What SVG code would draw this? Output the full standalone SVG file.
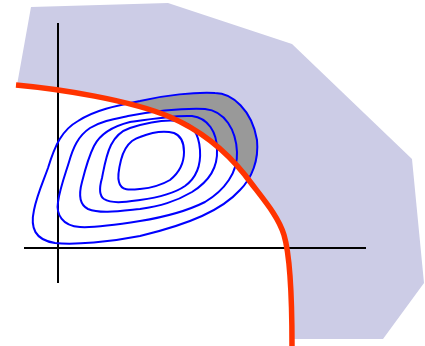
<svg xmlns="http://www.w3.org/2000/svg" width="425" height="346" viewBox="0 0 425 346">
  <style>
    .contour { fill: none; stroke: #0000ff; stroke-width: 2; }
    .axis { stroke: #000000; stroke-width: 2; fill: none; }
    .boundary { fill: none; stroke: #ff3300; stroke-width: 5.5; }
  </style>
  <defs>
    <path id="region" d="M31,7 L168,3 L292,44 L412,159 L424,283 L383,339 L292,339 C292,290 290,255 284,235 C278,215 262,198 245,175 C225,150 200,130 170,117 C130,100 60,89 17,85 Z"/>
    <path id="outer" d="M140,101 C165,95 195,92 215,93 C232,93 252,110 257,140 C259,160 252,178 240,190 C222,210 190,224 140,236 C110,242 75,245 55,243 C35,240 30,228 34,210 C37,195 43,182 48,168 C55,145 62,130 78,121 C95,110 115,106 140,101 Z"/>
    <clipPath id="regionClip"><use href="#region"/></clipPath>
  </defs>
  <g id="feasible-region">
    <use href="#region" fill="#cccce6"/>
  </g>
  <g id="overlap">
    <use href="#outer" fill="#999999" clip-path="url(#regionClip)"/>
  </g>
  <g id="axes">
    <line class="axis" x1="58" y1="23" x2="58" y2="283"/>
    <line class="axis" x1="24" y1="248" x2="366" y2="248"/>
  </g>
  <g id="contours">
    <use href="#outer" class="contour"/>
    <path class="contour" d="M128,116 C150,112 180,108 205,109 C225,111 236,130 237,152 C238,172 225,190 205,202 C185,212 165,217 140,221 C115,225 95,228 80,227 C62,226 56,214 58,202 C60,188 65,175 69,162 C73,148 78,136 90,128 C102,121 114,119 128,116 Z"/>
    <path class="contour" d="M130,122 C150,119 175,115 192,116 C208,118 217,132 217,150 C218,168 208,182 192,192 C175,202 160,206 140,209 C120,211 100,214 88,209 C78,204 79,193 82,182 C85,170 88,158 94,146 C99,136 110,127 130,122 Z"/>
    <path class="contour" d="M130,128 C145,123 165,119 180,121 C193,124 199,135 200,150 C201,165 196,178 185,186 C172,195 155,198 140,200 C125,202 112,204 104,199 C98,195 100,185 102,178 C104,168 106,155 111,145 C115,137 121,131 130,128 Z"/>
    <path class="contour" d="M140,137 C150,133 163,130 174,133 C182,136 184,144 184,152 C184,163 180,172 170,180 C160,186 150,188 140,189 C130,190 121,191 119,182 C117,176 119,168 121,160 C123,152 127,145 132,141 C135,139 137,138 140,137 Z"/>
  </g>
  <g id="boundary-curve">
    <path class="boundary" d="M16,85 C60,89 130,100 170,117 C200,130 225,150 245,175 C262,198 278,215 284,235 C290,255 292,290 292,346"/>
  </g>
</svg>
